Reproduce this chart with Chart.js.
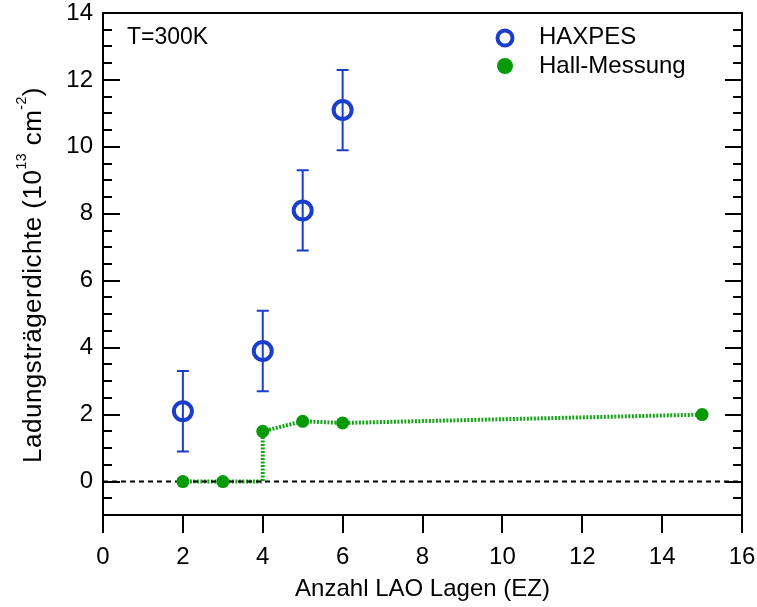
<!DOCTYPE html>
<html>
<head>
<meta charset="utf-8">
<script src="https://cdn.jsdelivr.net/npm/chart.js@4"></script>
<style>
  html, body { margin: 0; padding: 0; background: #fff; }
  #wrap { width: 757px; height: 607px; }
</style>
</head>
<body>
<div id="wrap"><canvas id="chart"></canvas></div>
<script>
// values
const haxpesX = [2, 4, 5, 6];
const haxpesY = [2.1, 3.9, 8.1, 11.1];
const haxpesErr = [1.2, 1.2, 1.2, 1.2];
const hallX = [2, 3, 4, 5, 6, 15];
const hallY = [0, 0, 1.5, 1.8, 1.75, 2.0];
const xTicks = [0, 2, 4, 6, 8, 10, 12, 14, 16];
const yTicks = [0, 2, 4, 6, 8, 10, 12, 14];
const seriesNames = ["HAXPES", "Hall-Messung"];
const note = "T=300K";
const xTitle = "Anzahl LAO Lagen (EZ)";
const yTitleParts = [["Ladungsträgerdichte (10", false], ["13", true], [" cm", false], ["-2", true], [")", false]];

const FONT = '"Liberation Sans", Arial, sans-serif';
const BLUE = "#1a3dcc";
const GREEN = "#069a06";

const haxpesPts = haxpesX.map((x, i) => ({ x: x, y: haxpesY[i] }));
const hallPts = hallX.map((x, i) => ({ x: x, y: hallY[i] }));
// the Hall line steps up at x=4: insert a corner at the previous level
const hallLine = [];
hallPts.forEach((p, i) => {
  if (i > 0 && p.x === 4) hallLine.push({ x: p.x, y: hallPts[i - 1].y });
  hallLine.push(p);
});
const zeroLine = [{ x: xTicks[0], y: 0 }, { x: xTicks[xTicks.length - 1], y: 0 }];

const errorBars = {
  id: "errorBars",
  beforeDatasetsDraw(chart) {
    const { ctx, scales: { x, y } } = chart;
    ctx.save();
    ctx.strokeStyle = BLUE;
    ctx.lineWidth = 2;
    haxpesX.forEach((v, i) => {
      const px = x.getPixelForValue(v);
      const top = y.getPixelForValue(haxpesY[i] + haxpesErr[i]);
      const bot = y.getPixelForValue(haxpesY[i] - haxpesErr[i]);
      ctx.beginPath();
      ctx.moveTo(px, top); ctx.lineTo(px, bot);
      ctx.moveTo(px - 6, top); ctx.lineTo(px + 6, top);
      ctx.moveTo(px - 6, bot); ctx.lineTo(px + 6, bot);
      ctx.stroke();
    });
    ctx.restore();
  }
};

const frame = {
  id: "frame",
  afterDraw(chart) {
    const { ctx, chartArea: a, scales: { y } } = chart;
    ctx.save();
    ctx.strokeStyle = "#000";
    ctx.lineWidth = 2;
    // y ticks point inward on both sides
    y.ticks.forEach(t => {
      const v = t.value;
      if (v <= y.min || v >= y.max) return;
      const len = yTicks.includes(v) ? 17 : 9;
      const py = Math.round(y.getPixelForValue(v));
      ctx.beginPath();
      ctx.moveTo(a.left, py); ctx.lineTo(a.left + len, py);
      ctx.moveTo(a.right, py); ctx.lineTo(a.right - len, py);
      ctx.stroke();
    });
    ctx.strokeRect(a.left, a.top, a.right - a.left, a.bottom - a.top);

    // note and legend
    ctx.fillStyle = "#000";
    ctx.textBaseline = "middle";
    ctx.font = "23px " + FONT;
    ctx.fillText(note, 127, 38);
    ctx.font = "24px " + FONT;
    ctx.fillText(seriesNames[0], 539, 37);
    ctx.fillText(seriesNames[1], 539, 66);
    ctx.beginPath();
    ctx.arc(505, 38, 7.5, 0, Math.PI * 2);
    ctx.strokeStyle = BLUE;
    ctx.lineWidth = 4;
    ctx.stroke();
    ctx.beginPath();
    ctx.arc(505, 66, 8, 0, Math.PI * 2);
    ctx.fillStyle = GREEN;
    ctx.fill();

    // y title with superscripts
    const big = "26px " + FONT, small = "14px " + FONT;
    ctx.letterSpacing = "0.5px";
    let total = 0;
    yTitleParts.forEach(([t, sup]) => { ctx.font = sup ? small : big; total += ctx.measureText(t).width; });
    ctx.translate(40.5, 275);
    ctx.rotate(-Math.PI / 2);
    ctx.fillStyle = "#000";
    ctx.textBaseline = "alphabetic";
    let cx = -total / 2;
    yTitleParts.forEach(([t, sup]) => {
      ctx.font = sup ? small : big;
      ctx.fillText(t, cx, sup ? -15 : 0);
      cx += ctx.measureText(t).width;
    });
    ctx.letterSpacing = "0px";
    ctx.restore();
  }
};

new Chart(document.getElementById("chart"), {
  type: "scatter",
  data: {
    datasets: [
      {
        label: seriesNames[0],
        data: haxpesPts,
        pointRadius: 9,
        pointHoverRadius: 9,
        pointBorderWidth: 4,
        borderColor: BLUE,
        backgroundColor: "rgba(0,0,0,0)",
        showLine: false
      },
      {
        label: seriesNames[1],
        data: hallPts,
        pointRadius: 6.5,
        pointHoverRadius: 6.5,
        pointBorderWidth: 0,
        backgroundColor: GREEN,
        borderColor: GREEN,
        showLine: false
      },
      {
        label: "zero",
        data: zeroLine,
        showLine: true,
        pointRadius: 0,
        borderColor: "#000",
        borderWidth: 2,
        borderDash: [5, 4]
      },
      {
        label: "hall line",
        data: hallLine,
        showLine: true,
        pointRadius: 0,
        borderColor: "#16a316",
        borderWidth: 4,
        borderDash: [2, 1.5],
        tension: 0
      }
    ]
  },
  options: {
    responsive: true,
    maintainAspectRatio: false,
    animation: false,
    layout: { padding: { top: 12, right: 15, left: 0, bottom: 0 } },
    plugins: { legend: { display: false }, tooltip: { enabled: false } },
    scales: {
      x: {
        type: "linear",
        min: xTicks[0],
        max: xTicks[xTicks.length - 1],
        ticks: {
          stepSize: 2,
          padding: 10,
          color: "#000",
          font: { family: FONT, size: 24 },
          callback: v => (xTicks.includes(v) ? String(v) : "")
        },
        grid: { drawOnChartArea: false, drawTicks: true, tickLength: 18, color: "#000", lineWidth: 2 },
        border: { display: false },
        title: {
          display: true,
          text: xTitle,
          color: "#000",
          font: { family: FONT, size: 24 },
          padding: { top: 0, bottom: 3 }
        },
        afterFit: s => { s.height = 92; s.paddingLeft = 0; s.paddingRight = 0; }
      },
      y: {
        type: "linear",
        min: -1,
        max: 14,
        ticks: {
          stepSize: 0.5,
          autoSkip: false,
          padding: 10,
          color: "#000",
          font: { family: FONT, size: 24 },
          callback: v => (yTicks.includes(v) ? String(v) : "")
        },
        grid: { display: false, drawTicks: false },
        border: { display: false },
        afterFit: s => { s.width = 103; s.paddingTop = 0; s.paddingBottom = 0; }
      }
    }
  },
  plugins: [errorBars, frame]
});
</script>
</body>
</html>
